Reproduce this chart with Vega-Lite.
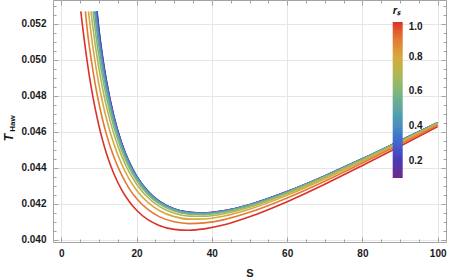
{
"$schema":"https://vega.github.io/schema/vega-lite/v6.json",
"width":393,"height":242,
"autosize":{"type":"none"},
"padding":{"left":53,"top":0,"right":3,"bottom":38},
"config":{"view":{"stroke":"#a3a3a3","strokeWidth":1},"font":"Liberation Sans"},
"data":{"values":[
{"r":0.1,"S":9.5,"T":0.05268},{"r":0.1,"S":10,"T":0.0517},{"r":0.1,"S":11,"T":0.05012},{"r":0.1,"S":12,"T":0.04882},{"r":0.1,"S":14,"T":0.04683},{"r":0.1,"S":16,"T":0.04539},{"r":0.1,"S":18,"T":0.04432},{"r":0.1,"S":20,"T":0.04353},{"r":0.1,"S":23,"T":0.04269},{"r":0.1,"S":26,"T":0.04214},{"r":0.1,"S":30,"T":0.04171},{"r":0.1,"S":34,"T":0.04152},{"r":0.1,"S":38,"T":0.04148},{"r":0.1,"S":43,"T":0.0416},{"r":0.1,"S":50,"T":0.04194},{"r":0.1,"S":60,"T":0.04267},{"r":0.1,"S":70,"T":0.04354},{"r":0.1,"S":80,"T":0.04449},{"r":0.1,"S":90,"T":0.04549},{"r":0.1,"S":100,"T":0.0465},
{"r":0.2,"S":9.44,"T":0.05268},{"r":0.2,"S":10,"T":0.05162},{"r":0.2,"S":11,"T":0.05007},{"r":0.2,"S":12,"T":0.04879},{"r":0.2,"S":14,"T":0.04681},{"r":0.2,"S":16,"T":0.04538},{"r":0.2,"S":18,"T":0.04432},{"r":0.2,"S":20,"T":0.04353},{"r":0.2,"S":23,"T":0.04269},{"r":0.2,"S":26,"T":0.04214},{"r":0.2,"S":30,"T":0.04171},{"r":0.2,"S":34,"T":0.04152},{"r":0.2,"S":38,"T":0.04148},{"r":0.2,"S":43,"T":0.04159},{"r":0.2,"S":50,"T":0.04194},{"r":0.2,"S":60,"T":0.04267},{"r":0.2,"S":70,"T":0.04354},{"r":0.2,"S":80,"T":0.04449},{"r":0.2,"S":90,"T":0.04549},{"r":0.2,"S":100,"T":0.0465},
{"r":0.3,"S":9.33,"T":0.05268},{"r":0.3,"S":10,"T":0.05145},{"r":0.3,"S":11,"T":0.04995},{"r":0.3,"S":12,"T":0.04871},{"r":0.3,"S":14,"T":0.04677},{"r":0.3,"S":16,"T":0.04535},{"r":0.3,"S":18,"T":0.0443},{"r":0.3,"S":20,"T":0.04352},{"r":0.3,"S":23,"T":0.04268},{"r":0.3,"S":26,"T":0.04213},{"r":0.3,"S":30,"T":0.0417},{"r":0.3,"S":34,"T":0.04151},{"r":0.3,"S":38,"T":0.04148},{"r":0.3,"S":43,"T":0.04159},{"r":0.3,"S":50,"T":0.04194},{"r":0.3,"S":60,"T":0.04266},{"r":0.3,"S":70,"T":0.04354},{"r":0.3,"S":80,"T":0.04449},{"r":0.3,"S":90,"T":0.04549},{"r":0.3,"S":100,"T":0.0465},
{"r":0.4,"S":9.13,"T":0.05268},{"r":0.4,"S":10,"T":0.05117},{"r":0.4,"S":11,"T":0.04974},{"r":0.4,"S":12,"T":0.04855},{"r":0.4,"S":14,"T":0.04667},{"r":0.4,"S":16,"T":0.04529},{"r":0.4,"S":18,"T":0.04426},{"r":0.4,"S":20,"T":0.04348},{"r":0.4,"S":23,"T":0.04265},{"r":0.4,"S":26,"T":0.04211},{"r":0.4,"S":30,"T":0.04169},{"r":0.4,"S":34,"T":0.0415},{"r":0.4,"S":38,"T":0.04147},{"r":0.4,"S":43,"T":0.04158},{"r":0.4,"S":50,"T":0.04193},{"r":0.4,"S":60,"T":0.04266},{"r":0.4,"S":70,"T":0.04353},{"r":0.4,"S":80,"T":0.04449},{"r":0.4,"S":90,"T":0.04548},{"r":0.4,"S":100,"T":0.0465},
{"r":0.5,"S":8.85,"T":0.05268},{"r":0.5,"S":9,"T":0.05238},{"r":0.5,"S":10,"T":0.05076},{"r":0.5,"S":11,"T":0.04942},{"r":0.5,"S":12,"T":0.04829},{"r":0.5,"S":14,"T":0.04651},{"r":0.5,"S":16,"T":0.04517},{"r":0.5,"S":18,"T":0.04417},{"r":0.5,"S":20,"T":0.04341},{"r":0.5,"S":23,"T":0.0426},{"r":0.5,"S":26,"T":0.04207},{"r":0.5,"S":30,"T":0.04166},{"r":0.5,"S":34,"T":0.04147},{"r":0.5,"S":38,"T":0.04144},{"r":0.5,"S":43,"T":0.04156},{"r":0.5,"S":50,"T":0.04191},{"r":0.5,"S":60,"T":0.04264},{"r":0.5,"S":70,"T":0.04352},{"r":0.5,"S":80,"T":0.04448},{"r":0.5,"S":90,"T":0.04547},{"r":0.5,"S":100,"T":0.04649},
{"r":0.6,"S":8.46,"T":0.05268},{"r":0.6,"S":9,"T":0.0517},{"r":0.6,"S":10,"T":0.05021},{"r":0.6,"S":11,"T":0.04897},{"r":0.6,"S":12,"T":0.04791},{"r":0.6,"S":14,"T":0.04624},{"r":0.6,"S":16,"T":0.04497},{"r":0.6,"S":18,"T":0.04401},{"r":0.6,"S":20,"T":0.04328},{"r":0.6,"S":23,"T":0.0425},{"r":0.6,"S":26,"T":0.04199},{"r":0.6,"S":30,"T":0.04159},{"r":0.6,"S":34,"T":0.04141},{"r":0.6,"S":38,"T":0.04139},{"r":0.6,"S":43,"T":0.04151},{"r":0.6,"S":50,"T":0.04187},{"r":0.6,"S":60,"T":0.04261},{"r":0.6,"S":70,"T":0.04349},{"r":0.6,"S":80,"T":0.04446},{"r":0.6,"S":90,"T":0.04546},{"r":0.6,"S":100,"T":0.04648},
{"r":0.7,"S":7.9,"T":0.05268},{"r":0.7,"S":8,"T":0.05249},{"r":0.7,"S":9,"T":0.05086},{"r":0.7,"S":10,"T":0.04951},{"r":0.7,"S":11,"T":0.04836},{"r":0.7,"S":12,"T":0.04739},{"r":0.7,"S":14,"T":0.04585},{"r":0.7,"S":16,"T":0.04467},{"r":0.7,"S":18,"T":0.04376},{"r":0.7,"S":20,"T":0.04308},{"r":0.7,"S":23,"T":0.04234},{"r":0.7,"S":26,"T":0.04185},{"r":0.7,"S":30,"T":0.04147},{"r":0.7,"S":34,"T":0.04131},{"r":0.7,"S":38,"T":0.0413},{"r":0.7,"S":43,"T":0.04143},{"r":0.7,"S":50,"T":0.0418},{"r":0.7,"S":60,"T":0.04255},{"r":0.7,"S":70,"T":0.04345},{"r":0.7,"S":80,"T":0.04442},{"r":0.7,"S":90,"T":0.04543},{"r":0.7,"S":100,"T":0.04645},
{"r":0.8,"S":7.21,"T":0.05268},{"r":0.8,"S":8,"T":0.0513},{"r":0.8,"S":9,"T":0.04985},{"r":0.8,"S":10,"T":0.04863},{"r":0.8,"S":11,"T":0.0476},{"r":0.8,"S":12,"T":0.04671},{"r":0.8,"S":14,"T":0.0453},{"r":0.8,"S":16,"T":0.04422},{"r":0.8,"S":18,"T":0.04338},{"r":0.8,"S":20,"T":0.04275},{"r":0.8,"S":23,"T":0.04207},{"r":0.8,"S":26,"T":0.04162},{"r":0.8,"S":30,"T":0.04128},{"r":0.8,"S":34,"T":0.04114},{"r":0.8,"S":38,"T":0.04115},{"r":0.8,"S":43,"T":0.0413},{"r":0.8,"S":50,"T":0.04169},{"r":0.8,"S":60,"T":0.04246},{"r":0.8,"S":70,"T":0.04337},{"r":0.8,"S":80,"T":0.04435},{"r":0.8,"S":90,"T":0.04538},{"r":0.8,"S":100,"T":0.04642},
{"r":0.9,"S":6.41,"T":0.05268},{"r":0.9,"S":7,"T":0.05147},{"r":0.9,"S":8,"T":0.04995},{"r":0.9,"S":9,"T":0.04866},{"r":0.9,"S":10,"T":0.04758},{"r":0.9,"S":11,"T":0.04665},{"r":0.9,"S":12,"T":0.04585},{"r":0.9,"S":14,"T":0.04458},{"r":0.9,"S":16,"T":0.04361},{"r":0.9,"S":18,"T":0.04285},{"r":0.9,"S":20,"T":0.04229},{"r":0.9,"S":23,"T":0.04168},{"r":0.9,"S":26,"T":0.04128},{"r":0.9,"S":30,"T":0.04099},{"r":0.9,"S":34,"T":0.04089},{"r":0.9,"S":38,"T":0.04093},{"r":0.9,"S":43,"T":0.0411},{"r":0.9,"S":50,"T":0.04152},{"r":0.9,"S":60,"T":0.04232},{"r":0.9,"S":70,"T":0.04325},{"r":0.9,"S":80,"T":0.04426},{"r":0.9,"S":90,"T":0.0453},{"r":0.9,"S":100,"T":0.04636},
{"r":1.0,"S":5.19,"T":0.05268},{"r":1.0,"S":5.5,"T":0.05213},{"r":1.0,"S":6,"T":0.05127},{"r":1.0,"S":7,"T":0.04973},{"r":1.0,"S":8,"T":0.04841},{"r":1.0,"S":9,"T":0.04729},{"r":1.0,"S":10,"T":0.04633},{"r":1.0,"S":11,"T":0.0455},{"r":1.0,"S":12,"T":0.04479},{"r":1.0,"S":14,"T":0.04365},{"r":1.0,"S":16,"T":0.04278},{"r":1.0,"S":18,"T":0.04213},{"r":1.0,"S":20,"T":0.04163},{"r":1.0,"S":23,"T":0.04111},{"r":1.0,"S":26,"T":0.04079},{"r":1.0,"S":30,"T":0.04057},{"r":1.0,"S":34,"T":0.04052},{"r":1.0,"S":38,"T":0.0406},{"r":1.0,"S":43,"T":0.04081},{"r":1.0,"S":50,"T":0.04127},{"r":1.0,"S":60,"T":0.04211},{"r":1.0,"S":70,"T":0.04308},{"r":1.0,"S":80,"T":0.04412},{"r":1.0,"S":90,"T":0.04519},{"r":1.0,"S":100,"T":0.04628}
]},
"layer":[
{"mark":{"type":"line","interpolate":"monotone","strokeWidth":1.6,"clip":true},
 "encoding":{
  "x":{"field":"S","type":"quantitative","scale":{"domain":[-2.2,102.2],"nice":false,"zero":false},
   "axis":{"orient":"bottom","values":[0,5,10,15,20,25,30,35,40,45,50,55,60,65,70,75,80,85,90,95,100],
    "labelExpr":"datum.value % 20 == 0 ? datum.label : ''","labelOverlap":false,"labelFlush":false,
    "grid":true,"gridColor":"#e6e6e6","gridOpacity":{"condition":{"test":"datum.value % 20 == 0","value":1},"value":0},
    "domain":false,"tickColor":"#a3a3a3","tickSize":{"condition":{"test":"datum.value % 20 == 0","value":-5},"value":-3},
    "labelPadding":11,"labelFontSize":10,"labelFontWeight":"bold","labelColor":"#1a1a1a",
    "title":"S","titleFontSize":11,"titleFontWeight":"bold","titleColor":"#1a1a1a","titlePadding":7}},
  "y":{"field":"T","type":"quantitative","scale":{"domain":[0.03987,0.053315],"nice":false,"zero":false},
   "axis":{"orient":"left","values":[0.04,0.0405,0.041,0.0415,0.042,0.0425,0.043,0.0435,0.044,0.0445,0.045,0.0455,0.046,0.0465,0.047,0.0475,0.048,0.0485,0.049,0.0495,0.05,0.0505,0.051,0.0515,0.052,0.0525,0.053],
    "format":".3f","labelExpr":"round(datum.value*10000) % 20 == 0 ? datum.label : ''","labelOverlap":false,"labelFlush":false,
    "grid":true,"gridColor":"#e6e6e6","gridOpacity":{"condition":{"test":"round(datum.value*10000) % 20 == 0","value":1},"value":0},
    "domain":false,"tickColor":"#a3a3a3","tickSize":{"condition":{"test":"round(datum.value*10000) % 20 == 0","value":-5},"value":-3},
    "labelPadding":12,"labelFontSize":10,"labelFontWeight":"bold","labelColor":"#1a1a1a",
    "title":"T","titleFontSize":12,"titleFontWeight":"bold","titleFontStyle":"italic","titleColor":"#1a1a1a",
    "titleAlign":"center","titleBaseline":"middle","titleX":-44.7,"titleY":137}},
  "color":{"field":"r","type":"quantitative",
   "scale":{"domain":[0.1,0.2,0.3,0.4,0.5,0.6,0.7,0.8,0.9,1.0],
    "range":["#6c2a8a","#4a39b5","#4563cc","#4f8dbf","#62a5a0","#84b57a","#b0b853","#d6a83f","#e37a34","#db3128"]},
   "legend":{"orient":"none","legendX":339.7,"legendY":5,"direction":"vertical","padding":0,
    "gradientLength":156,"gradientThickness":10,"gradientStrokeWidth":0,
    "values":[0.2,0.4,0.6,0.8,1.0],"format":".1f","labelOffset":6,"labelFontSize":10,"labelFontWeight":"bold","labelColor":"#1a1a1a",
    "title":"\u00a0\u00a0\u00a0rₛ","titleFontSize":11,"titleFontWeight":"bold","titleFontStyle":"italic","titleColor":"#1a1a1a","titlePadding":6,"titleAlign":"left","titleAnchor":"start"}},
  "detail":{"field":"r","type":"nominal"}
 }},
{"mark":{"type":"line","strokeOpacity":0},
 "encoding":{
  "x":{"field":"S","type":"quantitative",
   "axis":{"orient":"top","values":[0,5,10,15,20,25,30,35,40,45,50,55,60,65,70,75,80,85,90,95,100],"labels":false,"grid":false,"domain":false,"title":null,
    "tickColor":"#a3a3a3","tickSize":{"condition":{"test":"datum.value % 20 == 0","value":-5},"value":-3}}},
  "y":{"field":"T","type":"quantitative",
   "axis":{"orient":"right","values":[0.04,0.0405,0.041,0.0415,0.042,0.0425,0.043,0.0435,0.044,0.0445,0.045,0.0455,0.046,0.0465,0.047,0.0475,0.048,0.0485,0.049,0.0495,0.05,0.0505,0.051,0.0515,0.052,0.0525,0.053],"labels":false,"grid":false,"domain":false,"title":null,
    "tickColor":"#a3a3a3","tickSize":{"condition":{"test":"round(datum.value*10000) % 20 == 0","value":-5},"value":-3}}},
  "detail":{"field":"r","type":"nominal"}
 }},
{"data":{"values":[{"label":"Haw"}]},
 "mark":{"type":"text","angle":270,"fontSize":8,"fontWeight":"bold","color":"#1a1a1a","align":"center","baseline":"middle"},
 "encoding":{
  "text":{"field":"label"},
  "x":{"datum":-12.9,"type":"quantitative","axis":null},
  "y":{"datum":0.04645,"type":"quantitative","axis":null}
 }}
],
"resolve":{"axis":{"x":"independent","y":"independent"}}
}
